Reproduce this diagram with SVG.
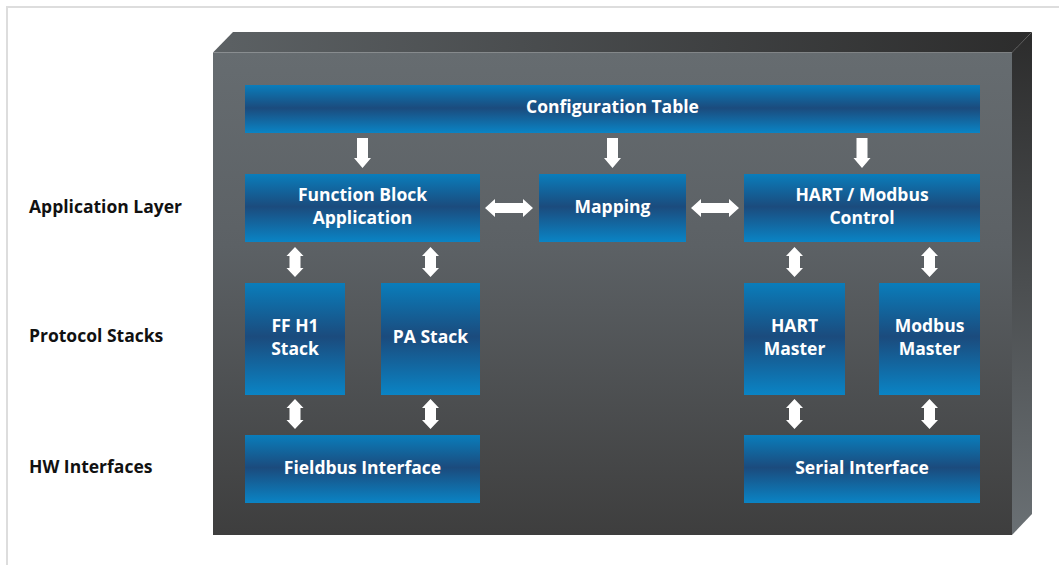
<svg xmlns="http://www.w3.org/2000/svg" xmlns:xlink="http://www.w3.org/1999/xlink" width="1059" height="565" viewBox="0 0 1059 565">
  <defs>
    <linearGradient id="faceGrad" x1="0" y1="0" x2="0" y2="1">
      <stop offset="0" stop-color="#666c70"/>
      <stop offset="0.4" stop-color="#5c6165"/>
      <stop offset="1" stop-color="#3e3e3e"/>
    </linearGradient>
    <linearGradient id="topGrad" x1="0" y1="0" x2="1" y2="0">
      <stop offset="0" stop-color="#5c6164"/>
      <stop offset="1" stop-color="#2c2c2c"/>
    </linearGradient>
    <linearGradient id="sideGrad" x1="0" y1="0" x2="0" y2="1">
      <stop offset="0" stop-color="#2c2c2c"/>
      <stop offset="1" stop-color="#6a7074"/>
    </linearGradient>
    <linearGradient id="blueGrad" x1="0" y1="0" x2="0" y2="1">
      <stop offset="0" stop-color="#0a7dbb"/>
      <stop offset="0.48" stop-color="#1b4b7d"/>
      <stop offset="1" stop-color="#0a84c5"/>
    </linearGradient>
    <path id="arrowDown" d="M-5.5,0 H5.5 V20 H8.5 L0,30 L-8.5,20 H-5.5 Z"/>
    <path id="arrowV" d="M0,-15 L8.5,-6 H5.5 V6 H8.5 L0,15 L-8.5,6 H-5.5 V-6 H-8.5 Z"/>
    <path id="arrowH" d="M-24,0 L-14,-9 V-5 H14 V-9 L24,0 L14,9 V5 H-14 V9 Z"/>
  </defs>
  <style>
    .box { fill: url(#blueGrad); }
    .lbl { font-family: "Open Sans", "Liberation Sans", sans-serif; font-weight: bold; font-size: 17.5px; fill: #ffffff; text-anchor: middle; }
    .side { font-family: "Open Sans", "Liberation Sans", sans-serif; font-weight: bold; font-size: 17.5px; fill: #111111; }
    .arrow { fill: #ffffff; }
  </style>

  <rect width="1059" height="565" fill="#ffffff"/>
  <rect x="7" y="7" width="1070" height="580" fill="none" stroke="#dddddd" stroke-width="2"/>

  <!-- enclosure -->
  <g id="enclosure">
    <polygon points="213,52.5 233,32 1032,32 1012,52.5" fill="url(#topGrad)"/>
    <polygon points="1012,52.5 1032,32 1032,514 1012,535" fill="url(#sideGrad)"/>
    <rect x="213" y="52.5" width="799" height="482.5" fill="url(#faceGrad)"/>
  </g>

  <!-- layer captions -->
  <g id="captions">
    <text class="side" x="29" y="213">Application Layer</text>
    <text class="side" x="29" y="342">Protocol Stacks</text>
    <text class="side" x="29" y="473">HW Interfaces</text>
  </g>

  <g id="config-table">
    <rect class="box" x="245" y="85" width="735" height="48"/>
    <text class="lbl" x="612.5" y="113">Configuration Table</text>
  </g>
  <g id="function-block">
    <rect class="box" x="245" y="174" width="235" height="68"/>
    <text class="lbl" x="362.5" y="201">Function Block</text>
    <text class="lbl" x="362.5" y="224">Application</text>
  </g>
  <g id="mapping">
    <rect class="box" x="539" y="174" width="147" height="68"/>
    <text class="lbl" x="612.5" y="213">Mapping</text>
  </g>
  <g id="hart-modbus-control">
    <rect class="box" x="744" y="174" width="236" height="68"/>
    <text class="lbl" x="862" y="201">HART / Modbus</text>
    <text class="lbl" x="862" y="224">Control</text>
  </g>
  <g id="ff-h1-stack">
    <rect class="box" x="245" y="283" width="100" height="112"/>
    <text class="lbl" x="295" y="332">FF H1</text>
    <text class="lbl" x="295" y="355">Stack</text>
  </g>
  <g id="pa-stack">
    <rect class="box" x="381" y="283" width="99" height="112"/>
    <text class="lbl" x="430.5" y="343">PA Stack</text>
  </g>
  <g id="hart-master">
    <rect class="box" x="744" y="283" width="101" height="112"/>
    <text class="lbl" x="794.5" y="332">HART</text>
    <text class="lbl" x="794.5" y="355">Master</text>
  </g>
  <g id="modbus-master">
    <rect class="box" x="879" y="283" width="101" height="112"/>
    <text class="lbl" x="929.5" y="332">Modbus</text>
    <text class="lbl" x="929.5" y="355">Master</text>
  </g>
  <g id="fieldbus-interface">
    <rect class="box" x="245" y="435" width="235" height="68"/>
    <text class="lbl" x="362.5" y="474">Fieldbus Interface</text>
  </g>
  <g id="serial-interface">
    <rect class="box" x="744" y="435" width="236" height="68"/>
    <text class="lbl" x="862" y="474">Serial Interface</text>
  </g>

  <!-- connectors -->
  <g id="connectors" class="arrow">
    <use xlink:href="#arrowDown" x="362.5" y="138"/>
    <use xlink:href="#arrowDown" x="612.5" y="138"/>
    <use xlink:href="#arrowDown" x="862" y="138"/>
    <use xlink:href="#arrowH" x="509" y="208"/>
    <use xlink:href="#arrowH" x="715" y="208"/>
    <use xlink:href="#arrowV" x="295" y="262"/>
    <use xlink:href="#arrowV" x="430.5" y="262"/>
    <use xlink:href="#arrowV" x="794.5" y="262"/>
    <use xlink:href="#arrowV" x="929.5" y="262"/>
    <use xlink:href="#arrowV" x="295" y="414"/>
    <use xlink:href="#arrowV" x="430.5" y="414"/>
    <use xlink:href="#arrowV" x="794.5" y="414"/>
    <use xlink:href="#arrowV" x="929.5" y="414"/>
  </g>
</svg>
